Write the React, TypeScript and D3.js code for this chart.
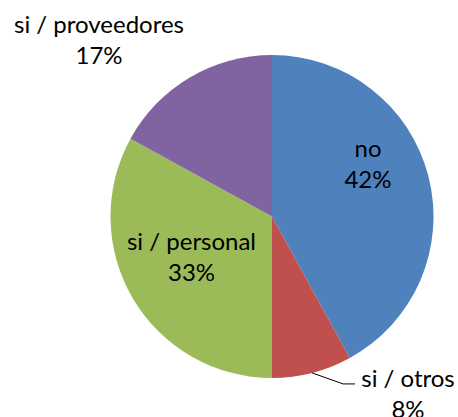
import React from "react";
import * as d3 from "d3";

const categories = ["no", "si / otros", "si / personal", "si / proveedores"];
const values = [42, 8, 33, 17];
const colors = ["#4F81BD", "#C0504D", "#9BBB59", "#8064A2"];
// first-line baseline of each label, relative to pie centre (text layout only)
const labelOffsets: [number, number][] = [
  [96, -59.5],
  [136, 170.5],
  [-80.5, 33.5],
  [-173, -183.5],
];

const W = 458;
const H = 417;
const cx = 272;
const cy = 216.5;
const R = 161.5;
const FONT = "Lato, 'Open Sans', sans-serif";
const FS = 24;
const LH = 31;

export default function App() {
  const pie = d3.pie<number>().sort(null).value((d) => d);
  const arcs = pie(values);
  const arcGen = d3.arc<d3.PieArcDatum<number>>().innerRadius(0).outerRadius(R);
  const total = d3.sum(values);

  // leader line for "si / otros"
  const red = arcs[1];
  const mid = (red.startAngle + red.endAngle) / 2;
  const p0: [number, number] = [Math.sin(mid) * R, -Math.cos(mid) * R];
  const lo = labelOffsets[1];
  const p1: [number, number] = [p0[0] + 31, p0[1] + 11];
  const p2: [number, number] = [lo[0] - 53, p1[1]];

  return (
    <svg width={W} height={H} style={{ position: "absolute", left: 0, top: 0 }}>
      <rect width={W} height={H} fill="#fff" />
      <g transform={`translate(${cx},${cy})`}>
        {arcs.map((a, i) => (
          <path key={i} d={arcGen(a) || ""} fill={colors[i]} />
        ))}
        <polyline
          points={[p0, p1, p2].map((p) => p.join(",")).join(" ")}
          fill="none"
          stroke="#000"
          strokeWidth={1}
        />
        {arcs.map((a, i) => {
          const [lx, ly] = labelOffsets[i];
          const pct = Math.round((values[i] / total) * 100) + "%";
          return (
            <text
              key={"t" + i}
              x={lx}
              y={ly}
              textAnchor="middle"
              fontFamily={FONT}
              fontSize={FS}
              fill="#000"
            >
              <tspan x={lx} y={ly}>{categories[i]}</tspan>
              <tspan x={lx} y={ly + LH}>{pct}</tspan>
            </text>
          );
        })}
      </g>
    </svg>
  );
}
